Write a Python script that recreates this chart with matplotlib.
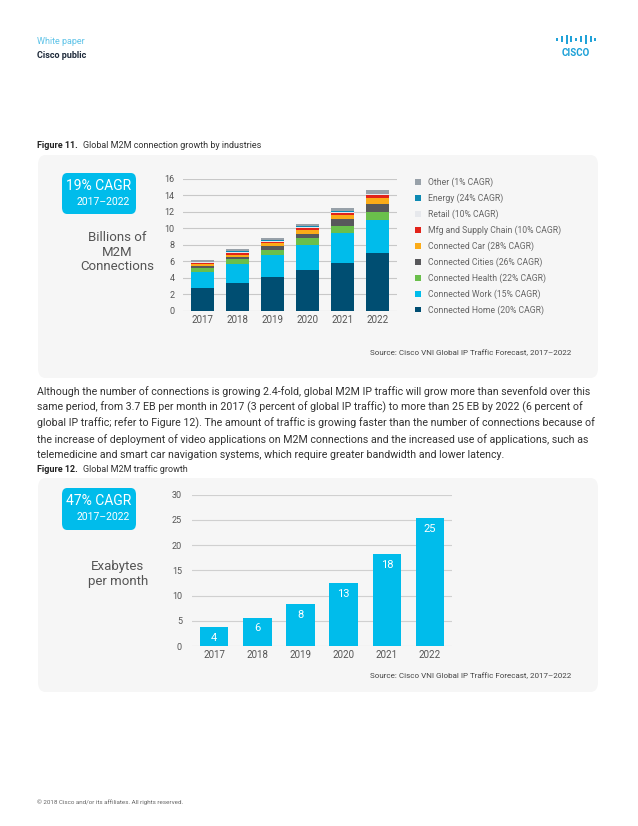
import matplotlib
matplotlib.use("Agg")
import matplotlib.pyplot as plt
from matplotlib.patches import FancyBboxPatch
import numpy as np

plt.rcParams['font.family'] = ['Roboto', 'DejaVu Sans']

# ---------------- data ----------------
years = ["2017", "2018", "2019", "2020", "2021", "2022"]

series_names = ["Connected Home (20% CAGR)", "Connected Work (15% CAGR)",
                "Connected Health (22% CAGR)", "Connected Cities (26% CAGR)",
                "Connected Car (28% CAGR)", "Mfg and Supply Chain (10% CAGR)",
                "Retail (10% CAGR)", "Energy (24% CAGR)", "Other (1% CAGR)"]
home    = [2.80, 3.40, 4.10, 4.95, 5.80, 7.00]
work    = [1.95, 2.30, 2.65, 3.05, 3.65, 4.00]
health  = [0.45, 0.55, 0.65, 0.77, 0.85, 1.00]
cities  = [0.25, 0.32, 0.48, 0.60, 0.77, 1.00]
car     = [0.20, 0.25, 0.30, 0.40, 0.55, 0.70]
mfg     = [0.20, 0.20, 0.22, 0.26, 0.29, 0.28]
retail  = [0.08, 0.12, 0.12, 0.12, 0.12, 0.12]
energy  = [0.05, 0.08, 0.08, 0.08, 0.08, 0.08]
other   = [0.15, 0.25, 0.28, 0.35, 0.38, 0.45]
series_values = [home, work, health, cities, car, mfg, retail, energy, other]
series_colors = ["#004e72", "#00bceb", "#6abf4b", "#58585b", "#fbab18",
                 "#e2231a", "#e6e8ec", "#0d8ab3", "#98a1a9"]

traffic = [3.7, 5.6, 8.3, 12.5, 18.2, 25.3]
traffic_labels = ["4", "6", "8", "13", "18", "25"]

W, H = 638, 826
fig = plt.figure(figsize=(W / 100, H / 100), dpi=100)
fig.patch.set_facecolor("white")

def fx(x):
    return x / W

def fy(y):
    return 1 - y / H

def axes_px(x0, y0, x1, y1):
    return fig.add_axes([fx(x0), fy(y1), fx(x1) - fx(x0), fy(y0) - fy(y1)])

# ---------------- header ----------------
fig.text(fx(37), fy(42), "White paper", color="#5ec3e8", fontsize=6.5, va="center")
fig.text(fx(37), fy(55), "Cisco public", color="#1e2a3a", fontsize=6.5,
         fontweight="bold", va="center")

# Cisco logo
logo_c = "#1ba0d7"
heights = [3, 6, 9, 6, 3, 6, 9, 6, 3]
for i, h in enumerate(heights):
    xx = 557 + i * 4.8
    fig.add_artist(plt.Line2D([fx(xx), fx(xx)], [fy(39 + h / 2), fy(39 - h / 2)],
                              color=logo_c, lw=1.4, solid_capstyle="butt"))
fig.text(fx(576), fy(53), "CISCO", color=logo_c, fontsize=7, fontweight="bold",
         ha="center", va="center")

# ---------------- panels ----------------
def panel(y0, y1):
    p = FancyBboxPatch((fx(38), fy(y1)), fx(598) - fx(38), fy(y0) - fy(y1),
                       boxstyle="round,pad=0,rounding_size=0.012",
                       transform=fig.transFigure, facecolor="#f6f6f6",
                       edgecolor="none", zorder=0)
    fig.add_artist(p)

panel(155, 378)
panel(478, 692)

def cagr_box(y0, y1, big, small):
    p = FancyBboxPatch((fx(62), fy(y1)), fx(136) - fx(62), fy(y0) - fy(y1),
                       boxstyle="round,pad=0,rounding_size=0.008",
                       transform=fig.transFigure, facecolor="#00bceb",
                       edgecolor="none", zorder=1)
    fig.add_artist(p)
    fig.text(fx(99), fy(y0 + 13), big, color="white", fontsize=10, ha="center", va="center")
    fig.text(fx(103), fy(y0 + 29), small, color="white", fontsize=7.5, ha="center", va="center")

# ---------------- Figure 11 ----------------
fig.text(fx(37), fy(146), "Figure 11.", fontsize=6.5, fontweight="bold", color="#222", va="center")
fig.text(fx(83), fy(146), "Global M2M connection growth by industries", fontsize=6.5,
         color="#333", va="center")

cagr_box(173, 214, "19% CAGR", "2017\u20132022")
fig.text(fx(117), fy(252), "Billions of\nM2M\nConnections", fontsize=9.5, color="#555",
         ha="center", va="center", linespacing=1.15)

ax1 = axes_px(183, 178.7, 397, 311)
ax1.set_facecolor("none")
x = np.arange(len(years))
bottom = np.zeros(len(years))
handles = []
for vals, col, name in zip(series_values, series_colors, series_names):
    b = ax1.bar(x, vals, bottom=bottom, width=0.66, color=col, label=name, zorder=3)
    handles.append(b)
    bottom += np.array(vals)
ax1.set_xlim(-0.55, 5.55)
ax1.set_ylim(0, 16)
ax1.set_yticks(range(0, 17, 2))
ax1.set_xticks(x)
ax1.set_xticklabels(years)
ax1.grid(axis="y", color="#c8c8c8", lw=0.8, zorder=0)
for s in ax1.spines.values():
    s.set_visible(False)
ax1.tick_params(length=0, colors="#555")
ax1.tick_params(axis="y", labelsize=6.5, pad=6)
ax1.tick_params(axis="x", labelsize=7, pad=3)

leg = fig.legend(handles[::-1], series_names[::-1], loc="upper left",
                 bbox_to_anchor=(fx(415), fy(177.5)), frameon=False, fontsize=6.2,
                 handlelength=0.68, handleheight=0.68, handletextpad=0.85,
                 labelspacing=0.74, labelcolor="#666", borderpad=0, borderaxespad=0)

fig.text(fx(571), fy(353), "Source: Cisco VNI Global IP Traffic Forecast, 2017\u20132022",
         fontsize=5.8, color="#444", ha="right", va="center")

# ---------------- paragraph ----------------
para = ["Although the number of connections is growing 2.4-fold, global M2M IP traffic will grow more than sevenfold over this",
        "same period, from 3.7 EB per month in 2017 (3 percent of global IP traffic) to more than 25 EB by 2022 (6 percent of",
        "global IP traffic; refer to Figure 12). The amount of traffic is growing faster than the number of connections because of",
        "the increase of deployment of video applications on M2M connections and the increased use of applications, such as",
        "telemedicine and smart car navigation systems, which require greater bandwidth and lower latency."]
for i, line in enumerate(para):
    fig.text(fx(37), fy(392 + i * 15.7), line, fontsize=7.65, color="#333", va="center")

# ---------------- Figure 12 ----------------
fig.text(fx(37), fy(469), "Figure 12.", fontsize=6.5, fontweight="bold", color="#222", va="center")
fig.text(fx(83), fy(469), "Global M2M traffic growth", fontsize=6.5, color="#333", va="center")

cagr_box(488, 530, "47% CAGR", "2017\u20132022")
fig.text(fx(118), fy(574), "Exabytes\nper month", fontsize=9.5, color="#555",
         ha="center", va="center", linespacing=1.15)

ax2 = axes_px(191.7, 494.7, 451.7, 646)
ax2.set_facecolor("none")
bars = ax2.bar(x, traffic, width=0.66, color="#00bceb", zorder=3)
for rect, lab in zip(bars, traffic_labels):
    ax2.annotate(lab, (rect.get_x() + rect.get_width() / 2, rect.get_height()),
                 xytext=(0, -4), textcoords="offset points", ha="center", va="top",
                 color="white", fontsize=8, zorder=4)
ax2.set_xlim(-0.52, 5.5)
ax2.set_ylim(0, 30)
ax2.set_yticks(range(0, 31, 5))
ax2.set_xticks(x)
ax2.set_xticklabels(years)
ax2.grid(axis="y", color="#d0d0d0", lw=0.8, zorder=0)
for s in ax2.spines.values():
    s.set_visible(False)
ax2.tick_params(length=0, colors="#555")
ax2.tick_params(axis="y", labelsize=6.5, pad=7)
ax2.tick_params(axis="x", labelsize=7, pad=3)

fig.text(fx(571), fy(676), "Source: Cisco VNI Global IP Traffic Forecast, 2017\u20132022",
         fontsize=5.8, color="#444", ha="right", va="center")

# ---------------- footer ----------------
fig.text(fx(37), fy(802), "\u00a9 2018 Cisco and/or its affiliates. All rights reserved.",
         fontsize=4.5, color="#666", va="center")

fig.savefig("out.png", dpi=100, facecolor="white")
